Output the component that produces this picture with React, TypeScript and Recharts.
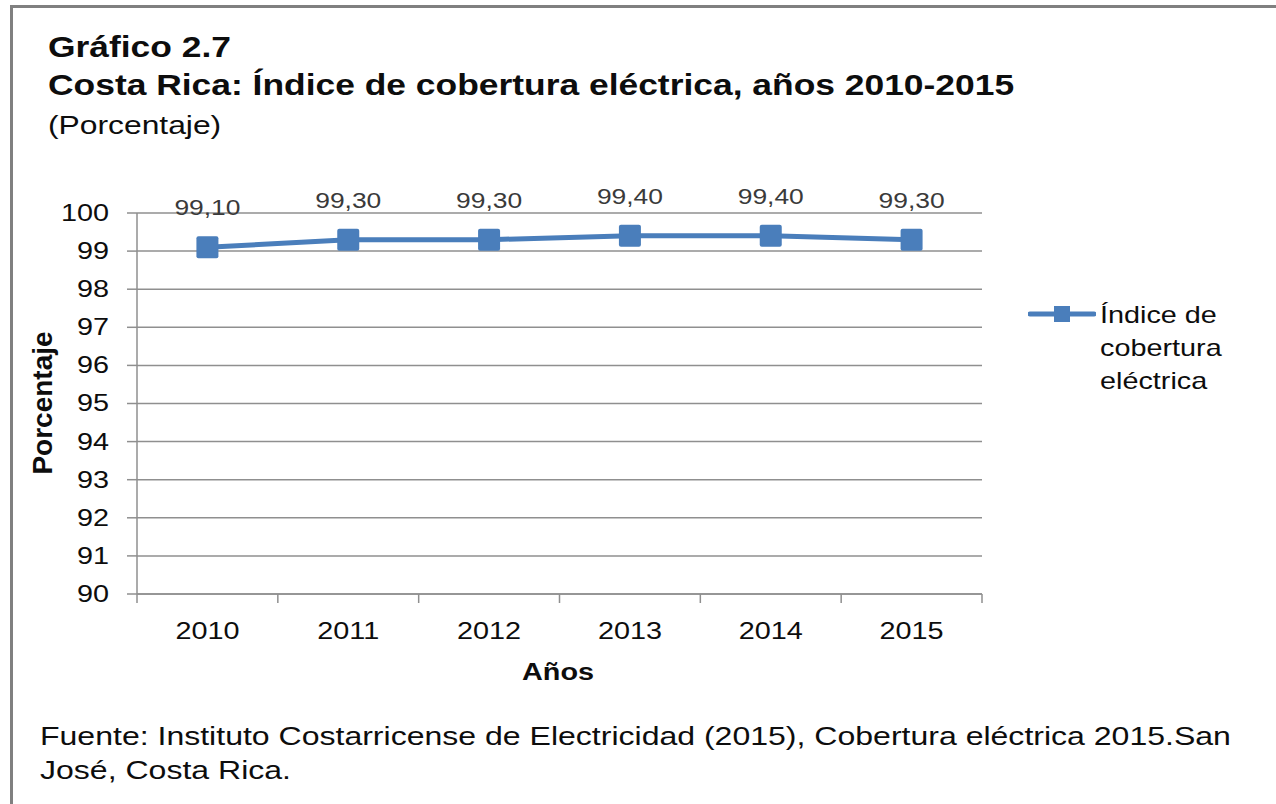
import { LineChart, Line, XAxis, YAxis, CartesianGrid, LabelList, Label } from "recharts";

const years = ["2010", "2011", "2012", "2013", "2014", "2015"];
const coverage = [99.1, 99.3, 99.3, 99.4, 99.4, 99.3];
const yTicks = [90, 91, 92, 93, 94, 95, 96, 97, 98, 99, 100];
const seriesName = ["Índice de", "cobertura", "eléctrica"];

const data = years.map((year, i) => ({ year, value: coverage[i] }));

const BLUE = "#4A7EBB";
const GRID = "#8F8F8F";
const INK = "#0d0d0d";
const FONT = "'Liberation Sans', Arial, sans-serif";

// the source text is drawn a bit wider than Arial, so stretch it horizontally
const wide = (origin: string) => ({
  transform: "scaleX(1.2)",
  transformBox: "fill-box" as const,
  transformOrigin: origin,
});
const wideHtml = { transform: "scaleX(1.2)", transformOrigin: "left top" };

const SquareDot = ({ cx, cy }: any) => {
  if (cx == null || cy == null) return null;
  return <rect x={cx - 11} y={cy - 11} width={22} height={22} rx={2} fill={BLUE} />;
};

// labels centred on each category, tick marks on the category boundaries
const YearTick = ({ x, y, payload, index, width, visibleTicksCount }: any) => {
  const bw = width / visibleTicksCount;
  return (
    <g>
      <line x1={x - bw / 2} y1={y} x2={x - bw / 2} y2={y + 9} stroke={GRID} strokeWidth={1.5} />
      {index === visibleTicksCount - 1 && (
        <line x1={x + bw / 2} y1={y} x2={x + bw / 2} y2={y + 9} stroke={GRID} strokeWidth={1.5} />
      )}
      <text x={x} y={y + 45} textAnchor="middle" fontSize={24} fill={INK} fontFamily={FONT} style={wide("50% 50%")}>
        {payload.value}
      </text>
    </g>
  );
};

const ValueTick = ({ x, y, payload }: any) => (
  <text
    x={x}
    y={y}
    dy={8}
    textAnchor="end"
    fontSize={24}
    fill={INK}
    fontFamily={FONT}
    style={wide("100% 50%")}
  >
    {payload.value}
  </text>
);

const LegendBox = () => (
  <div style={{ position: "absolute", left: 1028, top: 298, display: "flex", alignItems: "flex-start", fontFamily: FONT }}>
    <svg width={68} height={20} style={{ marginTop: 6 }}>
      <line x1={2} y1={10} x2={66} y2={10} stroke={BLUE} strokeWidth={5} strokeLinecap="round" />
      <rect x={26} y={2} width={16} height={16} fill={BLUE} />
    </svg>
    <div style={{ fontSize: 24, lineHeight: "33px", color: INK, marginLeft: 4, whiteSpace: "nowrap", ...wideHtml }}>
      {seriesName.map((s) => (
        <div key={s}>{s}</div>
      ))}
    </div>
  </div>
);

export default function App() {
  return (
    <div
      style={{
        position: "absolute",
        left: 0,
        top: 0,
        width: 1276,
        height: 804,
        background: "#fff",
        overflow: "hidden",
        fontFamily: FONT,
        color: INK,
      }}
    >
      <div
        style={{
          position: "absolute",
          left: 10,
          top: 5,
          width: 1300,
          height: 830,
          borderTop: "3px solid #808080",
          borderLeft: "3px solid #808080",
        }}
      />
      <div
        style={{
          position: "absolute",
          left: 48,
          top: 28,
          fontSize: 29.5,
          fontWeight: "bold",
          lineHeight: "38px",
          whiteSpace: "nowrap",
          ...wideHtml,
        }}
      >
        Gráfico 2.7
        <br />
        Costa Rica: Índice de cobertura eléctrica, años 2010-2015
      </div>
      <div style={{ position: "absolute", left: 48, top: 110, fontSize: 26.5, lineHeight: "30px", ...wideHtml }}>
        (Porcentaje)
      </div>

      <div style={{ position: "absolute", left: 0, top: 0 }}>
        <LineChart width={1276} height={804} data={data} margin={{ top: 213, right: 294, bottom: 120, left: 27 }}>
          <CartesianGrid vertical={false} stroke={GRID} strokeWidth={1.5} />
          <XAxis
            dataKey="year"
            scale="band"
            interval={0}
            height={90}
            stroke={GRID}
            strokeWidth={1.5}
            tickLine={false}
            tickSize={0}
            tickMargin={0}
            tick={<YearTick />}
          >
            <Label
              content={() => (
                <text
                  x={558}
                  y={680}
                  textAnchor="middle"
                  fontSize={24}
                  fontWeight="bold"
                  fill={INK}
                  fontFamily={FONT}
                  style={wide("50% 50%")}
                >
                  Años
                </text>
              )}
            />
          </XAxis>
          <YAxis
            width={110}
            domain={[90, 100]}
            ticks={yTicks}
            interval={0}
            stroke={GRID}
            strokeWidth={1.5}
            tickSize={10}
            tickMargin={18}
            tick={<ValueTick />}
          >
            <Label
              content={() => (
                <text
                  x={42}
                  y={403}
                  transform="rotate(-90 42 403)"
                  textAnchor="middle"
                  dominantBaseline="central"
                  fontSize={28}
                  fontWeight="bold"
                  fill={INK}
                  fontFamily={FONT}
                >
                  Porcentaje
                </text>
              )}
            />
          </YAxis>
          <Line
            type="linear"
            dataKey="value"
            name="Índice de cobertura eléctrica"
            stroke={BLUE}
            strokeWidth={5}
            dot={<SquareDot />}
            activeDot={false}
            isAnimationActive={false}
          >
            <LabelList
              dataKey="value"
              position="top"
              offset={32}
              formatter={(v: any) => Number(v).toFixed(2).replace(".", ",")}
              style={{ fontSize: 22, fill: "#3a3a3a", fontFamily: FONT, ...wide("50% 50%") }}
            />
          </Line>
        </LineChart>
      </div>

      <LegendBox />

      <div
        style={{
          position: "absolute",
          left: 40,
          top: 720,
          fontSize: 26.7,
          lineHeight: "33.5px",
          whiteSpace: "nowrap",
          ...wideHtml,
        }}
      >
        Fuente: Instituto Costarricense de Electricidad (2015), Cobertura eléctrica 2015.San
        <br />
        José, Costa Rica.
      </div>
    </div>
  );
}
